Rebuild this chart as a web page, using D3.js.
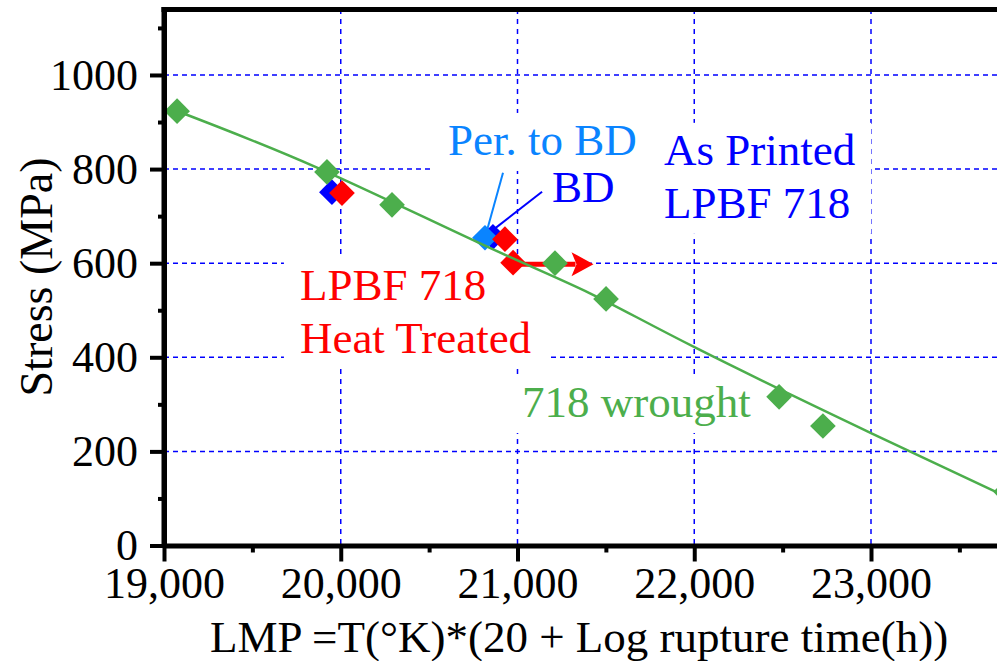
<!DOCTYPE html>
<html>
<head>
<meta charset="utf-8">
<script src="https://cdn.jsdelivr.net/npm/d3@7"></script>
<style>
    body { margin: 0; background: #fff; }
</style>
</head>
<body>
<div id="chart"></div>
<script>
'use strict';

// values (LMP, stress MPa)
var wrought = [
    [19074, 923], [19922, 794], [20290, 724], [21212, 600],
    [21501, 524], [22480, 316], [22728, 254], [23764, 114]
];
var printedBD = [[19950, 751], [20861, 656]];
var printedPerp = [[20816, 654]];
var heatTreated = [[20007, 749], [20929, 651], [20975, 601]];
var fitLine = [
    [19062, 925], [19866, 803], [20788, 642], [21410, 536],
    [22004, 421], [23006, 238], [23713, 113]
];
var runout = {from: 20975, to: 21430, stress: 598};

var xTicks = [19000, 20000, 21000, 22000, 23000];
var xMinor = [19500, 20500, 21500, 22500, 23500];
var yTicks = [0, 200, 400, 600, 800, 1000];
var yMinor = [100, 300, 500, 700, 900, 1100];

var labels = [
    {lines: ['Per. to BD'], x: 20607, y: 830, color: '#0a84ff'},
    {lines: ['BD'], x: 21195, y: 730, color: '#0000ff'},
    {lines: ['As Printed', 'LPBF 718'], x: 21829, y: 809, color: '#0000ff'},
    {lines: ['LPBF 718', 'Heat Treated'], x: 19769, y: 522, color: '#ff0000'},
    {lines: ['718 wrought'], x: 21025, y: 273, color: '#4cae4c'}
];
var leaders = [
    {from: [20918, 792], to: [20827, 669], color: '#0a84ff'},
    {from: [21139, 752], to: [20873, 674], color: '#0000ff'}
];

var width = 997,
    height = 661,
    green = '#4cae4c',
    serif = "'Liberation Serif', 'Times New Roman', serif";

var x = d3.scaleLinear().domain([19000, 24000]).range([164, 164 + 5000 * 0.17675]);
var y = d3.scaleLinear().domain([0, 1140]).range([545.5, 9.1]);

var svg = d3.select('#chart').append('svg')
    .attr('width', width)
    .attr('height', height)
    .style('font-family', serif);

svg.append('defs').append('clipPath').attr('id', 'plot')
    .append('rect')
    .attr('x', 164).attr('y', 9)
    .attr('width', width - 164).attr('height', 545.5 - 9);

var plot = svg.append('g').attr('clip-path', 'url(#plot)');

// grid
plot.selectAll('.hgrid')
    .data(yTicks.filter(function(d){ return d > 0; }))
    .enter().append('line')
    .attr('x1', 164).attr('x2', width)
    .attr('y1', function(d){ return y(d); })
    .attr('y2', function(d){ return y(d); })
    .attr('stroke', '#0000ff').attr('stroke-width', 1.5)
    .attr('stroke-dasharray', '5,4');

plot.selectAll('.vgrid')
    .data(xTicks.slice(1))
    .enter().append('line')
    .attr('x1', function(d){ return x(d); })
    .attr('x2', function(d){ return x(d); })
    .attr('y1', 9).attr('y2', 545)
    .attr('stroke', '#0000ff').attr('stroke-width', 1.5)
    .attr('stroke-dasharray', '5,5');

// labels on white frames that hide the grid
var labelG = plot.append('g');
labels.forEach(function(l){
    var g = labelG.append('g');
    var t = g.append('text')
        .attr('x', x(l.x))
        .attr('y', y(l.y))
        .attr('fill', l.color)
        .style('font-family', serif)
        .style('font-size', '45px');
    t.selectAll('tspan')
        .data(l.lines)
        .enter().append('tspan')
        .attr('x', x(l.x))
        .attr('dy', function(d, i){ return i ? 53 : 0; })
        .text(function(d){ return d; });
    var b = t.node().getBBox();
    g.insert('rect', 'text')
        .attr('x', b.x - 16).attr('y', b.y - 2)
        .attr('width', b.width + 32).attr('height', b.height + 8)
        .attr('fill', '#fff');
});

plot.selectAll('.leader')
    .data(leaders)
    .enter().append('line')
    .attr('x1', function(d){ return x(d.from[0]); })
    .attr('y1', function(d){ return y(d.from[1]); })
    .attr('x2', function(d){ return x(d.to[0]); })
    .attr('y2', function(d){ return y(d.to[1]); })
    .attr('stroke', function(d){ return d.color; })
    .attr('stroke-width', 2);

// runout arrow
plot.append('line')
    .attr('x1', x(runout.from)).attr('x2', x(runout.to) - 18)
    .attr('y1', y(runout.stress)).attr('y2', y(runout.stress))
    .attr('stroke', '#ff0000').attr('stroke-width', 5);
plot.append('path')
    .attr('d', 'M' + x(runout.to) + ',' + y(runout.stress) +
        'l-22,-12 l5,12 l-5,12 z')
    .attr('fill', '#ff0000');

var diamond = d3.symbol(d3.symbolSquare).size(330);

var drawMarkers = function(data, color){
    plot.append('g').selectAll('path')
        .data(data)
        .enter().append('path')
        .attr('d', diamond)
        .attr('transform', function(d){
            return 'translate(' + x(d[0]) + ',' + y(d[1]) + ') rotate(45)';
        })
        .attr('fill', color);
};

drawMarkers(printedBD, '#0000ff');
drawMarkers(printedPerp, '#0a84ff');
drawMarkers(heatTreated, '#ff0000');

plot.append('path')
    .datum(fitLine)
    .attr('d', d3.line()
        .x(function(d){ return x(d[0]); })
        .y(function(d){ return y(d[1]); })
        .curve(d3.curveNatural))
    .attr('fill', 'none')
    .attr('stroke', green)
    .attr('stroke-width', 2.5);

drawMarkers(wrought, green);

// axes
svg.append('g')
    .attr('transform', 'translate(164,0)')
    .call(d3.axisLeft(y).tickValues(yTicks).tickSize(14).tickPadding(12)
        .tickFormat(d3.format('d')).tickSizeOuter(0));
svg.append('g')
    .attr('transform', 'translate(164,0)')
    .call(d3.axisLeft(y).tickValues(yMinor).tickSize(6).tickFormat('').tickSizeOuter(0))
    .select('.domain').remove();

svg.append('g')
    .attr('transform', 'translate(0,545.5)')
    .call(d3.axisBottom(x).tickValues(xTicks).tickSize(16).tickPadding(5)
        .tickFormat(d3.format(',')).tickSizeOuter(0));
svg.append('g')
    .attr('transform', 'translate(0,545.5)')
    .call(d3.axisBottom(x).tickValues(xMinor).tickSize(7).tickFormat('').tickSizeOuter(0))
    .select('.domain').remove();

svg.selectAll('.tick line').attr('stroke', '#000').attr('stroke-width', 4);
svg.selectAll('.domain').attr('stroke', '#000').attr('stroke-width', 5);
svg.selectAll('.tick text')
    .attr('fill', '#000')
    .style('font-family', serif)
    .style('font-size', '44px');

// top frame line
svg.append('line')
    .attr('x1', 161.5).attr('x2', width)
    .attr('y1', 9.5).attr('y2', 9.5)
    .attr('stroke', '#000').attr('stroke-width', 5);
svg.append('line')
    .attr('x1', 164).attr('x2', 164)
    .attr('y1', 7).attr('y2', 548)
    .attr('stroke', '#000').attr('stroke-width', 5);

svg.append('text')
    .attr('transform', 'translate(52,277) rotate(-90)')
    .attr('text-anchor', 'middle')
    .style('font-family', serif)
    .style('font-size', '46px')
    .text('Stress (MPa)');

svg.append('text')
    .attr('x', 210)
    .attr('y', 652)
    .style('font-family', serif)
    .style('font-size', '45px')
    .text('LMP =T(°K)*(20 + Log rupture time(h))');
</script>
</body>
</html>
